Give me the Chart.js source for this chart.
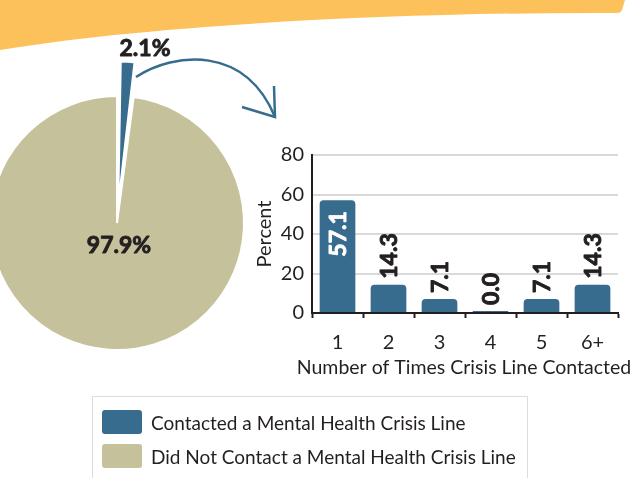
<!DOCTYPE html>
<html>
<head>
<meta charset="utf-8">
<script src="https://cdn.jsdelivr.net/npm/chart.js@4/dist/chart.umd.min.js"></script>
<style>
  html, body { margin: 0; padding: 0; background: #ffffff; }
  body { width: 639px; height: 478px; overflow: hidden; position: relative; font-family: Lato, "Noto Sans", sans-serif; color: #231f20; }
  #banner { position: absolute; left: 0; top: 0; }
  #pieWrap { position: absolute; left: -73px; top: 33px; width: 380px; height: 380px; }
  #barWrap { position: absolute; left: 240px; top: 130px; width: 399px; height: 250px; }
  #arrow { position: absolute; left: 0; top: 0; }
  #legend { position: absolute; left: 92px; top: 396px; width: 436px; height: 100px; border: 1.5px solid #dcdcdc; box-sizing: border-box; }
  .item { position: absolute; left: 9px; height: 24px; display: flex; align-items: center; font-size: 19px; white-space: nowrap; }
  .sw { width: 40px; height: 24px; border-radius: 3px; margin-right: 9px; flex: none; }
</style>
</head>
<body>
<svg id="banner" width="639" height="60">
  <path d="M0,0 L625,0 L622,10 Q621,13 617,13 C400,12 150,25 0,50 Z" fill="#FDC15B"/>
</svg>
<div id="pieWrap"><canvas id="pie" width="380" height="380"></canvas></div>
<svg id="arrow" width="639" height="140">
  <path d="M136,77 C175,52 245,45 275,117" fill="none" stroke="#376C8F" stroke-width="2.5"/>
  <path d="M242,107 L275,117 L274,86" fill="none" stroke="#376C8F" stroke-width="2.5" stroke-linejoin="miter"/>
</svg>
<div id="barWrap"><canvas id="bar" width="399" height="250"></canvas></div>
<div id="legend"></div>
<script>
// ---- data ----
const pieLabels = ['Contacted a Mental Health Crisis Line', 'Did Not Contact a Mental Health Crisis Line'];
const pieValues = [2.1, 97.9];
const pieColors = ['#376C8F', '#C5C19B'];

const barCategories = ['1', '2', '3', '4', '5', '6+'];
const barValues = [57.1, 14.3, 7.1, 0.0, 7.1, 14.3];
const yTicks = [0, 20, 40, 60, 80];

const xTitle = 'Number of Times Crisis Line Contacted';
const yTitle = 'Percent';

const DARK = '#231f20';
const FONT = 'Lato, "Noto Sans", sans-serif';
const SLICE_OFFSET = 74;

function heavyText(ctx, txt, x, y, color) {
  ctx.fillStyle = color;
  ctx.strokeStyle = color;
  ctx.lineWidth = 0.9;
  ctx.lineJoin = 'round';
  ctx.strokeText(txt, x, y);
  ctx.fillText(txt, x, y);
}

// ---- legend (HTML) ----
const legend = document.getElementById('legend');
pieLabels.forEach((lab, i) => {
  const d = document.createElement('div');
  d.className = 'item';
  d.style.top = (13 + i * 34) + 'px';
  const s = document.createElement('span');
  s.className = 'sw';
  s.style.background = pieColors[i];
  const t = document.createElement('span');
  t.textContent = lab;
  d.appendChild(s); d.appendChild(t);
  legend.appendChild(d);
});

// ---- pie ----
const pieLabelPlugin = {
  id: 'pieLabels',
  afterDatasetsDraw(chart) {
    const ctx = chart.ctx;
    const meta = chart.getDatasetMeta(0);
    const ds = chart.data.datasets[0];
    ctx.save();
    ctx.font = 'bold 23px ' + FONT;
    ctx.textAlign = 'center';
    ctx.textBaseline = 'middle';
    const a0 = meta.data[0];
    const a1 = meta.data[1];
    heavyText(ctx, ds.data[0].toFixed(1) + '%', a0.x + 28, a0.y - a0.outerRadius - 47, DARK);
    heavyText(ctx, ds.data[1].toFixed(1) + '%', a1.x + 2, a1.y + 23, DARK);
    ctx.restore();
  }
};

new Chart(document.getElementById('pie'), {
  type: 'pie',
  data: {
    labels: pieLabels,
    datasets: [{
      data: pieValues,
      backgroundColor: pieColors,
      borderColor: '#ffffff',
      borderWidth: 2,
      offset: [SLICE_OFFSET, 0],
      hoverOffset: 0
    }]
  },
  options: {
    responsive: false,
    animation: false,
    events: [],
    radius: 127,
    layout: { padding: 0 },
    plugins: { legend: { display: false }, tooltip: { enabled: false } }
  },
  plugins: [pieLabelPlugin]
});

// ---- bar ----
const barLabelPlugin = {
  id: 'barLabels',
  afterDatasetsDraw(chart) {
    const ctx = chart.ctx;
    const meta = chart.getDatasetMeta(0);
    const ds = chart.data.datasets[0];
    const area = chart.chartArea;
    ctx.save();
    ctx.font = 'bold 23px ' + FONT;
    ctx.textBaseline = 'middle';
    meta.data.forEach((bar, i) => {
      const v = ds.data[i];
      const txt = v.toFixed(1);
      ctx.save();
      let color;
      if (v > 40) {
        ctx.translate(bar.x, bar.y + 11);
        ctx.rotate(-Math.PI / 2);
        ctx.textAlign = 'right';
        color = '#ffffff';
      } else {
        ctx.translate(bar.x, Math.min(bar.y, chart.scales.y.getPixelForValue(0) - 2) - 6);
        ctx.rotate(-Math.PI / 2);
        ctx.textAlign = 'left';
        color = DARK;
      }
      heavyText(ctx, txt, 0, 1, color);
      ctx.restore();
    });
    // x-axis title (drawn without width compression)
    ctx.font = '19.5px ' + FONT;
    ctx.fillStyle = DARK;
    ctx.textAlign = 'center';
    ctx.textBaseline = 'middle';
    ctx.fillText(xTitle, (area.left + area.right) / 2 - 1, area.bottom + 55);
    ctx.restore();
  }
};

new Chart(document.getElementById('bar'), {
  type: 'bar',
  data: {
    labels: barCategories,
    datasets: [{
      data: barValues,
      backgroundColor: pieColors[0],
      borderRadius: 4,
      borderSkipped: 'bottom',
      categoryPercentage: 1,
      barPercentage: 0.7,
      minBarLength: 2
    }]
  },
  options: {
    responsive: false,
    animation: false,
    events: [],
    layout: { padding: { top: 25, right: 21, left: 0, bottom: 0 } },
    plugins: { legend: { display: false }, tooltip: { enabled: false } },
    scales: {
      x: {
        afterFit(s) { s.height = 67; },
        grid: { display: true, drawOnChartArea: false, drawTicks: true, tickLength: 5, tickColor: DARK, tickWidth: 2, offset: true },
        border: { display: true, color: DARK, width: 2 },
        ticks: { color: DARK, font: { family: FONT, size: 20 }, padding: 13 },
        title: { display: false }
      },
      y: {
        min: 0, max: 80,
        afterFit(s) { s.width = 72; },
        afterBuildTicks(s) { s.ticks = yTicks.map(v => ({ value: v })); },
        grid: { color: '#d9d9d9', lineWidth: 2, drawTicks: false },
        border: { display: true, color: DARK, width: 2 },
        ticks: { color: DARK, font: { family: FONT, size: 20 }, padding: 8 },
        title: { display: true, text: yTitle, color: DARK, font: { family: FONT, size: 20 }, padding: { top: 13, bottom: 0 } }
      }
    }
  },
  plugins: [barLabelPlugin]
});
</script>
</body>
</html>
